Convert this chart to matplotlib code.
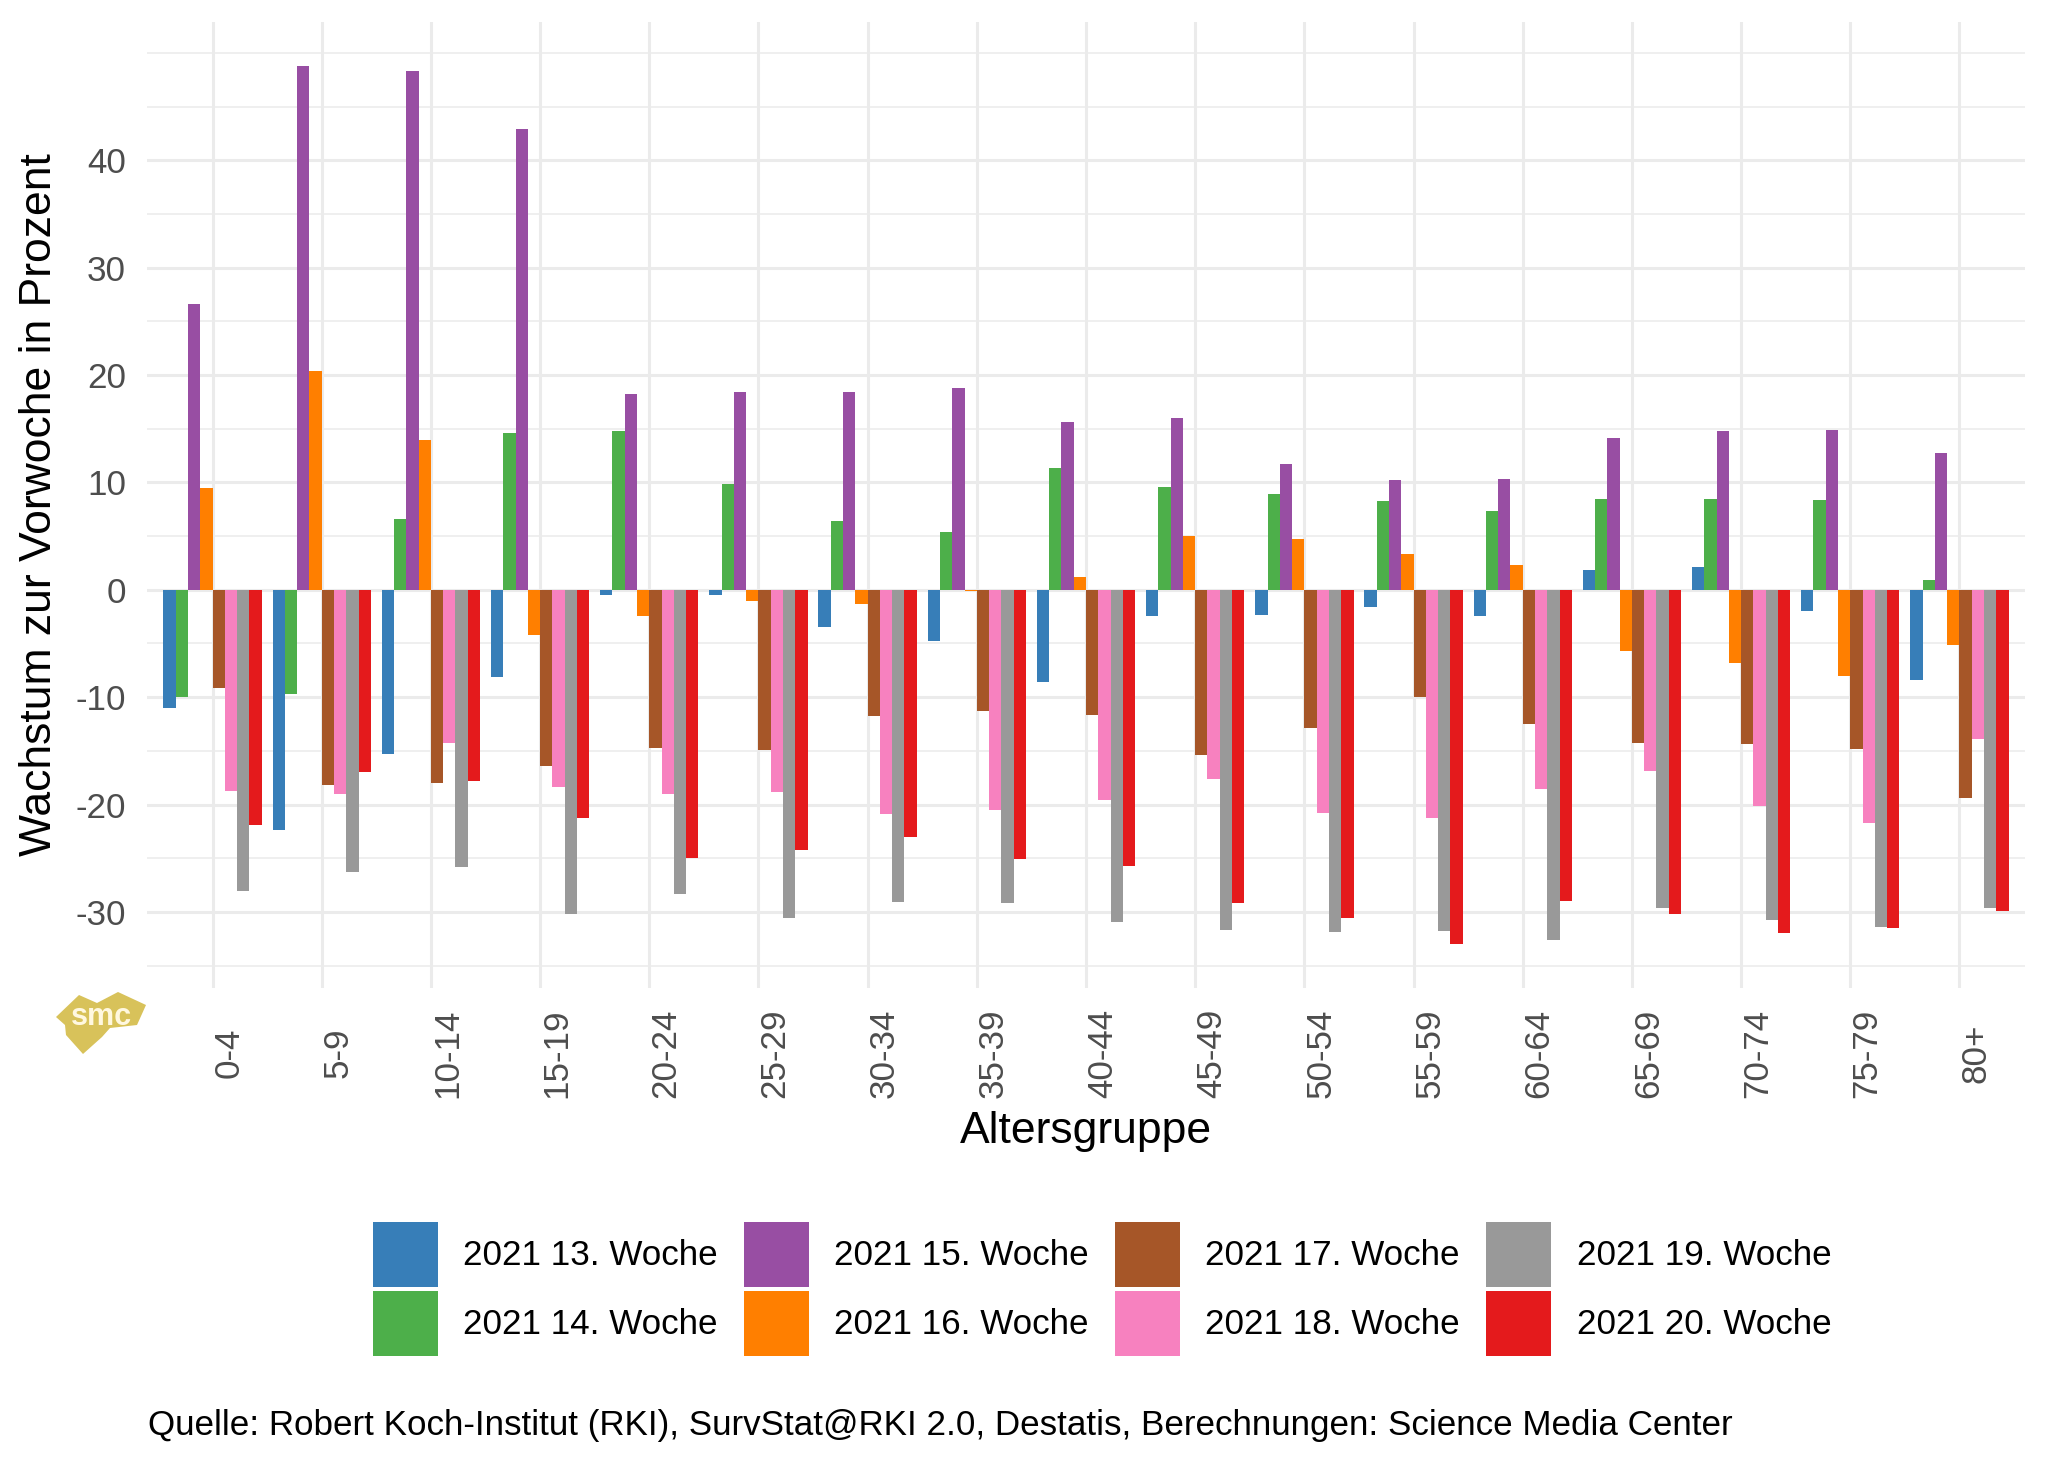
import numpy as np
import matplotlib
matplotlib.use("Agg")
from matplotlib import pyplot as plt
from matplotlib.patches import Polygon

plt.rcParams["font.family"] = ["Liberation Sans", "DejaVu Sans"]

# Age groups and weekly growth (percent vs. previous week)
groups = ["0-4", "5-9", "10-14", "15-19", "20-24", "25-29", "30-34", "35-39",
          "40-44", "45-49", "50-54", "55-59", "60-64", "65-69", "70-74",
          "75-79", "80+"]

w13 = [-11.0, -22.4, -15.3, -8.1, -0.5, -0.5, -3.5, -4.8, -8.6, -2.4, -2.3,
       -1.6, -2.4, 1.8, 2.1, -2.0, -8.4]
w14 = [-10.0, -9.7, 6.6, 14.6, 14.8, 9.9, 6.4, 5.4, 11.3, 9.6, 8.9, 8.3, 7.3,
       8.5, 8.5, 8.4, 0.9]
w15 = [26.6, 48.8, 48.3, 42.9, 18.2, 18.4, 18.4, 18.8, 15.6, 16.0, 11.7, 10.2,
       10.3, 14.1, 14.8, 14.9, 12.7]
w16 = [9.5, 20.4, 14.0, -4.2, -2.4, -1.0, -1.3, -0.1, 1.2, 5.0, 4.7, 3.3, 2.3,
       -5.7, -6.8, -8.0, -5.1]
w17 = [-9.1, -18.2, -18.0, -16.4, -14.7, -14.9, -11.8, -11.3, -11.7, -15.4,
       -12.9, -10.0, -12.5, -14.3, -14.4, -14.8, -19.4]
w18 = [-18.7, -19.0, -14.3, -18.4, -19.0, -18.8, -20.9, -20.5, -19.6, -17.6,
       -20.8, -21.3, -18.6, -16.9, -20.1, -21.7, -13.9]
w19 = [-28.1, -26.3, -25.8, -30.2, -28.3, -30.6, -29.1, -29.2, -30.9, -31.7,
       -31.9, -31.8, -32.6, -29.6, -30.8, -31.4, -29.6]
w20 = [-21.9, -17.0, -17.8, -21.3, -25.0, -24.2, -23.0, -25.1, -25.7, -29.2,
       -30.6, -33.0, -29.0, -30.2, -32.0, -31.5, -29.9]

series = [w13, w14, w15, w16, w17, w18, w19, w20]
labels = ["2021 13. Woche", "2021 14. Woche", "2021 15. Woche", "2021 16. Woche",
          "2021 17. Woche", "2021 18. Woche", "2021 19. Woche", "2021 20. Woche"]
colors = ["#377EB8", "#4DAF4A", "#984EA3", "#FF7F00",
          "#A65628", "#F781BF", "#999999", "#E41A1C"]

W, H = 2048, 1462
fig = plt.figure(figsize=(W / 200, H / 200), dpi=200)
ax = fig.add_axes([147 / W, 1 - 988 / H, (2025 - 147) / W, (988 - 22) / H])

# Dodged bars, total dodge width 0.9
x = np.arange(len(groups))
bar_w = 0.9 / len(series)
for j, (vals, lab, col) in enumerate(zip(series, labels, colors)):
    ax.bar(x + (j - 3.5) * bar_w, vals, width=bar_w, color=col, label=lab,
           linewidth=0, zorder=3)

# Limits like ggplot (5% expansion)
allv = np.concatenate([np.array(s) for s in series] + [np.array([0.0])])
lo, hi = allv.min(), allv.max()
pad = 0.05 * (hi - lo)
ax.set_ylim(lo - pad, hi + pad)
ax.set_xlim(-0.6, len(groups) - 0.4)

# Grid (theme_minimal look)
yt = [-30, -20, -10, 0, 10, 20, 30, 40]
ax.set_yticks(yt, [str(v) for v in yt])
ax.set_yticks(np.arange(-35, 55, 5), minor=True)
ax.set_xticks(x, groups, rotation=90, ha="left", va="center")
ax.grid(which="major", color="#EBEBEB", linewidth=1.1, zorder=0)
ax.grid(which="minor", axis="y", color="#EBEBEB", linewidth=0.55, zorder=0)
ax.tick_params(axis="both", which="both", length=0, labelcolor="#4D4D4D",
               labelsize=12.6)
ax.tick_params(axis="x", pad=23.4)
ax.tick_params(axis="y", pad=7.6)
for s in ax.spines.values():
    s.set_visible(False)
ax.set_axisbelow(True)

ax.set_xlabel("Altersgruppe", fontsize=16, va="center")
ax.xaxis.set_label_coords(0.5, (988 - 1132) / (988 - 22))
ax.set_ylabel("Wachstum zur Vorwoche in Prozent", fontsize=16, va="center")
ax.yaxis.set_label_coords((40 - 147) / (2025 - 147), 0.5)

# Legend at the bottom, 2 rows x 4 columns
ax.legend(loc="upper center", bbox_to_anchor=(1102 / W, 1 - 1222 / H),
          bbox_transform=fig.transFigure, ncol=4, frameon=False, fontsize=12.6,
          handlelength=1.86, handleheight=2.5, handletextpad=0.72,
          columnspacing=0.75, labelspacing=0.1, borderpad=0, borderaxespad=0)

fig.text(148 / W, 1 - 1425 / H,
         "Quelle: Robert Koch-Institut (RKI), SurvStat@RKI 2.0, Destatis, "
         "Berechnungen: Science Media Center",
         ha="left", va="center", fontsize=12.6)

# smc logo (rough gold shape with lettering)
logo_px = [(56, 1017), (79, 995), (97, 1003), (118, 992), (146, 1005),
           (137, 1025), (110, 1028), (102, 1037), (83, 1054), (66, 1035),
           (65, 1025)]
logo = Polygon([(px / W, 1 - py / H) for px, py in logo_px], closed=True,
               transform=fig.transFigure, facecolor="#D8C25A", edgecolor="none")
fig.patches.append(logo)
fig.text(101 / W, 1 - 1017 / H, "smc", color="#FFF8E0", fontsize=11,
         fontweight="bold", ha="center", va="center")

fig.savefig("out.png", dpi=200)
